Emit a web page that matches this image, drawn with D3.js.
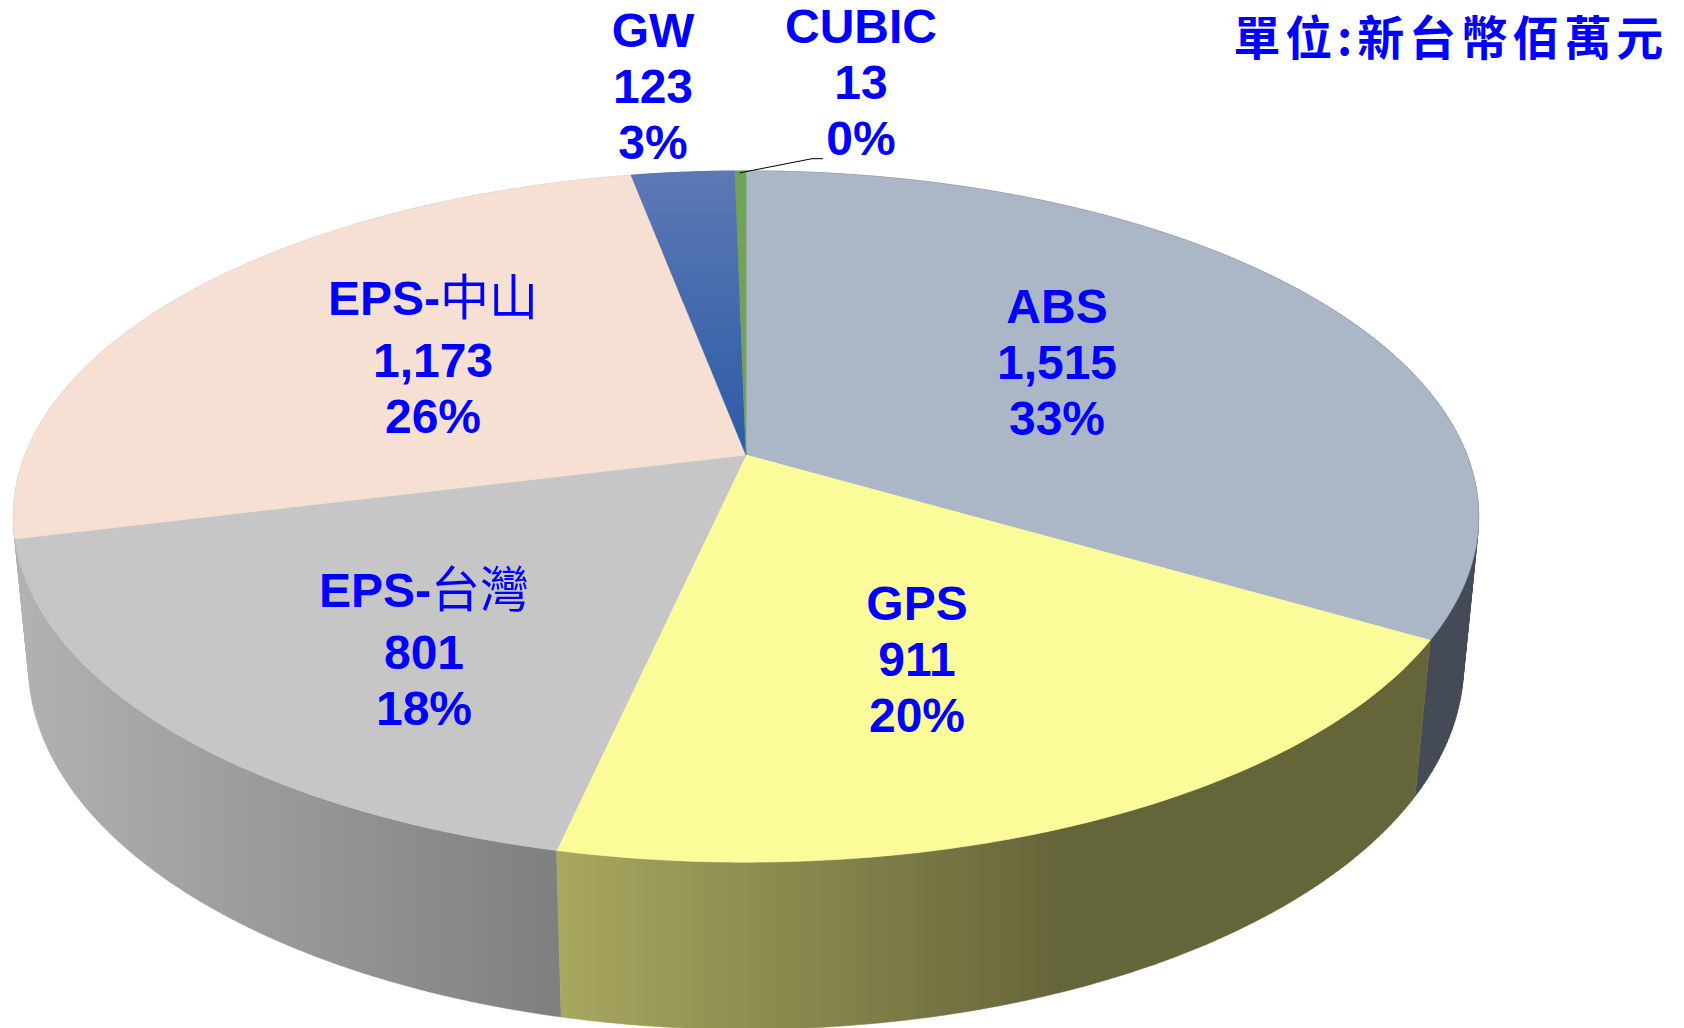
<!DOCTYPE html>
<html><head><meta charset="utf-8">
<script src="https://cdn.jsdelivr.net/npm/d3@7/dist/d3.min.js"></script>
<style>html,body{margin:0;padding:0;background:#fff;overflow:hidden}svg{display:block}</style>
</head><body><div id="chart"></div>
<script>
const categories = ["ABS","GPS","EPS-台灣","EPS-中山","GW","CUBIC"];
const values = [1515,911,801,1173,123,13];
const percentLabels = ["33%","20%","18%","26%","3%","0%"];
const unitLabel = "單位:新台幣佰萬元";
const topColors = ["#abb7c7","#fbfb99","#c6c6c6","#f6e0d4","url(#gwTop)","#70a356"];
const wallStartColors = ["#454b56","#a8a860","#b2b2b2","#b2b2b2","#2c5aa8","#70a356"];
const wallEndColors = ["#454b56","#65653a","#7f7f7f","#b2b2b2","#2c5aa8","#70a356"];
const labelCenters = [[1057,323],[917,620],[424,607],[433,315],[653,47],[861,43]];

const W=1684,H=1028;
const svg=d3.select("#chart").append("svg").attr("width",W).attr("height",H).attr("viewBox",[0,0,W,H]);
const defs=svg.append("defs");

// perspective disc: hub, radius, tilt and thickness of the projected pie
const hubX=746,hubY=455,R=721,tiltA=-253.7,tiltC=0.178,drop=158.5,dropW=0.0205;
function project(angle,z){
  const u=Math.sin(angle),v=Math.cos(angle),w=1+tiltC*v+dropW*z;
  return [hubX+R*u/w,(tiltA*v+hubY+drop*z)/w];
}
function stepAngles(d){
  const n=Math.max(4,Math.ceil((d.endAngle-d.startAngle)*90));
  return d3.range(n+1).map(i=>d.startAngle+(d.endAngle-d.startAngle)*i/n);
}
const arcs=d3.pie().sort(null).value(v=>v)(values);
const line=d3.line();

const gw=defs.append("linearGradient").attr("id","gwTop").attr("gradientUnits","userSpaceOnUse")
  .attr("x1",0).attr("x2",0).attr("y1",170).attr("y2",455);
gw.append("stop").attr("offset",0).attr("stop-color","#5c79b3");
gw.append("stop").attr("offset",1).attr("stop-color","#2c5aa8");

const wallRange=[[1300,1480],[557,1060],[15,562],[15,600],[600,740],[740,750]];
arcs.forEach((d,i)=>{
  const g=defs.append("linearGradient").attr("id","wall"+i).attr("gradientUnits","userSpaceOnUse")
    .attr("x1",wallRange[i][0]).attr("x2",wallRange[i][1]).attr("y1",0).attr("y2",0);
  g.append("stop").attr("offset",0).attr("stop-color",wallStartColors[i]);
  g.append("stop").attr("offset",1).attr("stop-color",wallEndColors[i]);
});

// outer wall: a strip of quads, all wound the same way, so the straight silhouette between the rims fills solidly
const wallPath=d=>{
  const a=stepAngles(d);
  return d3.range(a.length-1).map(k=>{
    const q=[project(a[k],0),project(a[k+1],0),project(a[k+1],1),project(a[k],1)];
    if(d3.polygonArea(q)<0) q.reverse();
    return line(q)+"Z";
  }).join("");
};
const wallOrder=[3,4,5,0,2,1];
svg.append("g").selectAll("path").data(wallOrder).join("path")
  .attr("d",i=>wallPath(arcs[i]))
  .attr("fill",i=>`url(#wall${i})`)
  .attr("stroke",i=>`url(#wall${i})`).attr("stroke-width",0.5);

svg.append("g").selectAll("path").data(arcs).join("path")
  .attr("d",d=>line([[hubX,hubY]].concat(stepAngles(d).map(a=>project(a,0))))+"Z")
  .attr("fill",(d,i)=>topColors[i])
  .attr("stroke",(d,i)=>topColors[i]).attr("stroke-width",0.6);

// CUBIC leader line
const cubic=arcs[5],leadStart=project((cubic.startAngle+cubic.endAngle)/2,0);
svg.append("path").attr("fill","none").attr("stroke","#000").attr("stroke-width",1)
  .attr("d",line([[leadStart[0]-1,leadStart[1]+2],[812,158.7],[823,158.7]]));

const fmt=d3.format(",");
const isCJK=/[\u4e00-\u9fff]+/;
const labels=svg.append("g").attr("fill","#0000ff").attr("text-anchor","middle")
  .attr("font-family","'Liberation Sans',Arial,sans-serif").attr("font-weight",700).attr("font-size",48);
categories.forEach((c,i)=>{
  const [x,y]=labelCenters[i];
  const t=labels.append("text").attr("x",x).attr("y",y);
  const m=c.match(isCJK);
  if(m){
    t.append("tspan").text(c.slice(0,m.index));
    t.append("tspan").attr("font-family","'Noto Sans CJK TC'").attr("font-weight",400).attr("font-size",49).text(m[0]);
  } else t.text(c);
  const gap=m?5.5:0;
  labels.append("text").attr("x",x).attr("y",y+56+gap).text(fmt(values[i]));
  labels.append("text").attr("x",x).attr("y",y+112+gap).text(percentLabels[i]);
});

svg.append("text").attr("x",1668).attr("y",55).attr("text-anchor","end").attr("fill","#0000ff")
  .attr("font-family","'Noto Sans CJK TC'").attr("font-weight",700).attr("font-size",47).attr("letter-spacing",4.8)
  .text(unitLabel);
</script></body></html>
